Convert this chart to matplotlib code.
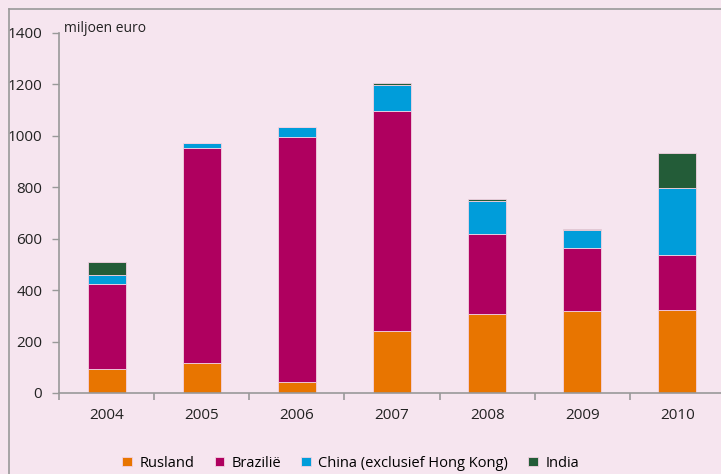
import matplotlib.pyplot as plt
import numpy as np
from matplotlib.lines import Line2D

plt.rcParams['font.family'] = ['Open Sans', 'DejaVu Sans']

jaren = ["2004", "2005", "2006", "2007", "2008", "2009", "2010"]
rusland = [95, 118, 43, 241, 307, 319, 323]
brazilie = [330, 835, 953, 857, 310, 246, 215]
china = [33, 19, 39, 100, 130, 68, 261]
india = [50, 0, 0, 7, 8, 3, 136]

kleuren = ["#E87500", "#AF005F", "#009DDA", "#235C38"]
namen = ["Rusland", "Brazilië", "China (exclusief Hong Kong)", "India"]
achtergrond = "#F6E5EF"

fig = plt.figure(figsize=(7.21, 4.74), dpi=100, facecolor=achtergrond)
# as loopt door tot net buiten de figuur
ax = fig.add_axes([59 / 721, 81 / 474, 666 / 721, 360 / 474])
ax.set_facecolor(achtergrond)

x = np.arange(len(jaren))
onder = np.zeros(len(jaren))
for waarden, kleur, naam in zip([rusland, brazilie, china, india], kleuren, namen):
    ax.bar(x, waarden, bottom=onder, width=0.4, color=kleur, label=naam,
           edgecolor="#f3d2e2", linewidth=0.6)
    onder = onder + np.array(waarden)

ax.set_xlim(-0.5, len(jaren) - 0.5)
ax.set_ylim(0, 1400)
ax.set_yticks(range(0, 1401, 200))
ax.set_xticks(x)
ax.set_xticklabels(jaren)
ax.set_xticks(np.arange(-0.5, len(jaren), 1), minor=True)
ax.tick_params(axis="x", which="major", length=0, pad=11, labelsize=11, colors="#222222")
ax.tick_params(axis="x", which="minor", length=5, width=1.2, color="#999999")
ax.tick_params(axis="y", length=5, width=1.0, color="#999999", labelsize=11,
               labelcolor="#222222", pad=7)

for kant in ["top", "right"]:
    ax.spines[kant].set_visible(False)
for kant in ["left", "bottom"]:
    ax.spines[kant].set_color("#999999")
    ax.spines[kant].set_linewidth(1.2)

ax.text(0.008, 1.012, "miljoen euro", transform=ax.transAxes, fontsize=10,
        va="center", ha="left", color="#222222")

ax.legend(loc="center", bbox_to_anchor=(0.438, -0.195), ncol=4,
          frameon=False, fontsize=10.5, handlelength=0.65, handleheight=0.65,
          handletextpad=0.5, columnspacing=1.4)

# kader rond de figuur
fig.add_artist(Line2D([9 / 721, 9 / 721], [0, 1 - 9 / 474], color="#999999", lw=1.2))
fig.add_artist(Line2D([9 / 721, 1], [1 - 9 / 474, 1 - 9 / 474], color="#999999", lw=1.2))

fig.savefig("out.png", dpi=100, facecolor=achtergrond)
